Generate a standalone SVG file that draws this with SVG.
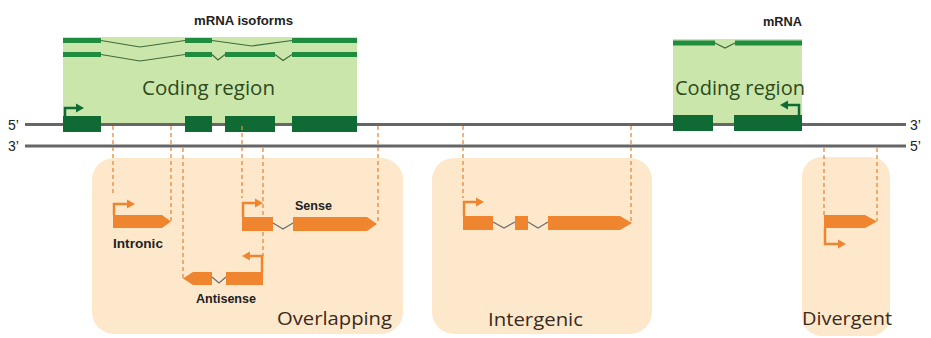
<svg xmlns="http://www.w3.org/2000/svg" width="931" height="338" viewBox="0 0 931 338">
<style>
.bg{fill:#fde8cc}
.cod{fill:#cbe6aa}
.exg{fill:#0f6a34}
.mr{stroke:#1f8c3f;stroke-width:5;fill:none}
.intr{stroke:#3f6a3a;stroke-width:1.2;fill:none}
.dna{stroke:#666666;stroke-width:3;fill:none}
.dash{stroke:#e58a3c;stroke-width:1.3;stroke-dasharray:4 3;fill:none}
.or{fill:#ef852e}
.orl{stroke:#ef852e;stroke-width:2.5;fill:none}
.grl{stroke:#0f6a34;stroke-width:2.5;fill:none}
.vi{stroke:#6f6f6f;stroke-width:1.3;fill:none}
.lb{font-family:"Liberation Sans",Arial,sans-serif;font-weight:bold;font-size:13px;fill:#222222}
.big{font-family:"Open Sans","Noto Sans",sans-serif;font-size:19px;fill:#3a2a1c}
.cg{font-family:"Open Sans","Noto Sans",sans-serif;font-size:20px;fill:#2c4a1e}
.pr{font-family:"Liberation Sans",Arial,sans-serif;font-size:14px;fill:#222}
</style>
<rect width="931" height="338" fill="#ffffff"/>

<g id="overlapping-box">
<rect class="bg" x="92" y="158" width="311" height="176" rx="22"/>
</g>
<g id="intergenic-box">
<rect class="bg" x="432" y="158" width="220" height="176" rx="22"/>
</g>
<g id="divergent-box">
<rect class="bg" x="802" y="157" width="88" height="179" rx="20"/>
</g>

<g id="coding-region-left">
<rect class="cod" x="63" y="37" width="294" height="87"/>
<path class="mr" d="M63,40.5H101M185,40.5H212M292,40.5H357"/>
<path class="intr" d="M101,40.5L140,47L185,40.5M212,40.5L252,46L292,40.5"/>
<path class="mr" d="M63,54.5H101M185,54.5H212M225,54.5H275M292,54.5H357"/>
<path class="intr" d="M101,54.5L140,61L185,54.5M212,54.5L218,60L225,54.5M275,54.5L283,60.5L292,54.5"/>
<text class="lb" x="194" y="25" textLength="99" lengthAdjust="spacingAndGlyphs">mRNA isoforms</text>
<text class="cg" x="142" y="95" textLength="133" lengthAdjust="spacingAndGlyphs">Coding region</text>
</g>

<g id="coding-region-right">
<rect class="cod" x="673" y="39" width="129" height="85"/>
<path class="mr" d="M673,43H715M735,43H802"/>
<path class="intr" d="M715,43L725,48L735,43"/>
<text class="lb" x="763" y="26" textLength="39" lengthAdjust="spacingAndGlyphs">mRNA</text>
<text class="cg" x="675" y="95" textLength="130" lengthAdjust="spacingAndGlyphs">Coding region</text>
</g>

<g id="dna">
<line class="dna" x1="25" y1="124.5" x2="906" y2="124.5"/>
<line class="dna" x1="25" y1="146" x2="906" y2="146"/>
<text class="pr" x="8" y="130">5’</text>
<text class="pr" x="8" y="151">3’</text>
<text class="pr" x="910" y="130">3’</text>
<text class="pr" x="910" y="151">5’</text>
</g>

<g id="exons-left">
<rect class="exg" x="63" y="116" width="38" height="16"/>
<rect class="exg" x="185" y="116" width="27" height="16"/>
<rect class="exg" x="225" y="116" width="50" height="16"/>
<rect class="exg" x="292" y="116" width="65" height="16"/>
<path class="grl" d="M65,116V108H77"/>
<polygon fill="#0f6a34" points="76,103.5 84,108 76,112.5"/>
</g>

<g id="exons-right">
<rect class="exg" x="673" y="115" width="40" height="16"/>
<rect class="exg" x="734" y="115" width="68" height="16"/>
<path class="grl" d="M799,115V105H787"/>
<polygon fill="#0f6a34" points="788,100.5 780,105 788,109.5"/>
</g>

<g id="connectors">
<line class="dash" x1="113" y1="126" x2="113" y2="195"/>
<line class="dash" x1="171" y1="126" x2="171" y2="221"/>
<line class="dash" x1="183" y1="148" x2="183" y2="278"/>
<line class="dash" x1="242" y1="126" x2="242" y2="198"/>
<line class="dash" x1="263" y1="148" x2="263" y2="256"/>
<line class="dash" x1="378" y1="126" x2="378" y2="224"/>
<line class="dash" x1="463" y1="126" x2="463" y2="198"/>
<line class="dash" x1="631" y1="126" x2="631" y2="222"/>
<line class="dash" x1="824" y1="148" x2="824" y2="215"/>
<line class="dash" x1="877" y1="148" x2="877" y2="221"/>
</g>

<g id="intronic">
<polygon class="or" points="113,215 162,215 171,221.5 162,228 113,228"/>
<path class="orl" d="M114,215V204H128"/>
<polygon class="or" points="127,199.5 135,204 127,208.5"/>
<text class="lb" x="113" y="248" textLength="50" lengthAdjust="spacingAndGlyphs">Intronic</text>
</g>

<g id="sense">
<rect class="or" x="242" y="217" width="31" height="14"/>
<path class="vi" d="M273,223L283,229L293,223"/>
<polygon class="or" points="293,217 367,217 377,224 367,231 293,231"/>
<path class="orl" d="M243,217V203H256"/>
<polygon class="or" points="255,198.5 263,203 255,207.5"/>
<text class="lb" x="295" y="210" textLength="37" lengthAdjust="spacingAndGlyphs">Sense</text>
</g>

<g id="antisense">
<polygon class="or" points="183,278.5 193,272 212,272 212,285 193,285"/>
<path class="vi" d="M212,277L219,283L226,277"/>
<rect class="or" x="226" y="272" width="37" height="13"/>
<path class="orl" d="M262,272V256H249"/>
<polygon class="or" points="250,251.5 242,256 250,260.5"/>
<text class="lb" x="196" y="303" textLength="60" lengthAdjust="spacingAndGlyphs">Antisense</text>
</g>

<text class="big" x="277" y="325" textLength="115" lengthAdjust="spacingAndGlyphs">Overlapping</text>

<g id="intergenic">
<rect class="or" x="463" y="216" width="30" height="14"/>
<path class="vi" d="M493,222L504,228L515,222"/>
<rect class="or" x="515" y="216" width="13" height="14"/>
<path class="vi" d="M528,222L538,228L548,222"/>
<polygon class="or" points="548,216 620,216 632,223 620,230 548,230"/>
<path class="orl" d="M464,216V202H477"/>
<polygon class="or" points="476,197.5 484,202 476,206.5"/>
<text class="big" x="488" y="326" textLength="95" lengthAdjust="spacingAndGlyphs">Intergenic</text>
</g>

<g id="divergent">
<polygon class="or" points="824,215 865,215 877,221.5 865,228 824,228"/>
<path class="orl" d="M825,228V244H839"/>
<polygon class="or" points="838,239.5 846,244 838,248.5"/>
<text class="big" x="802" y="325" textLength="90" lengthAdjust="spacingAndGlyphs">Divergent</text>
</g>
</svg>
